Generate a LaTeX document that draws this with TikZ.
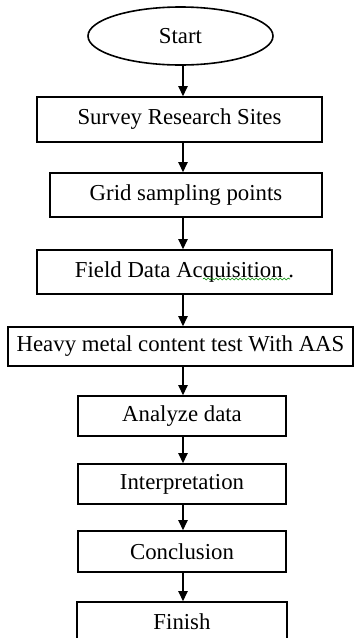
\documentclass[tikz,border=0pt]{standalone}
\usepackage{fontspec}
\setmainfont{Liberation Serif}
\usetikzlibrary{arrows.meta}
\usetikzlibrary{shapes,decorations.pathmorphing}

\begin{document}
\begin{tikzpicture}[x=0.5pt,y=-0.5pt,font=\fontsize{11.4}{13}\selectfont]
		\useasboundingbox (0,0) rectangle (354,638);
		\clip (0,0) rectangle (354,638);

		\begin{scope}[every node/.style={rectangle,draw,line width=0.8pt,inner sep=0pt}]
			\node[ellipse,minimum width=92.5pt,minimum height=29pt] (start) at (180.5,36) {Start};
			\node[minimum width=142.5pt,minimum height=22.5pt] (survey) at (179.5,119.5) {Survey Research Sites};
			\node[minimum width=136pt,minimum height=22pt] (grid) at (186,195) {Grid sampling points};
			\node[minimum width=147.5pt,minimum height=22pt] (field) at (184.5,272) {Field Data Acquisition .};
			\node[minimum width=172.5pt,minimum height=19.5pt] (heavy) at (180.5,346.5) {Heavy metal content test With AAS};
			\node[minimum width=104pt,minimum height=20pt] (analyze) at (182,416) {Analyze data};
			\node[minimum width=104pt,minimum height=20pt] (interp) at (182,484) {Interpretation};
			\node[minimum width=104pt,minimum height=20.5pt] (concl) at (182,551.5) {Conclusion};
			\node[minimum width=105pt,minimum height=20pt] (finish) at (182,622) {Finish};
		\end{scope}

		% spell-check squiggle under Acquisition
		\draw[green!55!black,line width=0.3pt,decorate,decoration={snake,segment length=2pt,amplitude=0.5pt}] (203,279) -- (290,279);

		\coordinate (axis) at (183,0);
		\begin{scope}[>={Triangle[length=5pt,width=4.6pt]},line width=0.7pt]
			\path[->] (start.south -| axis) edge (survey.north -| axis);
			\path[->] (survey.south -| axis) edge (grid.north -| axis);
			\path[->] (grid.south -| axis) edge (field.north -| axis);
			\path[->] (field.south -| axis) edge (heavy.north -| axis);
			\path[->] (heavy.south -| axis) edge (analyze.north -| axis);
			\path[->] (analyze.south -| axis) edge (interp.north -| axis);
			\path[->] (interp.south -| axis) edge (concl.north -| axis);
			\path[->] (concl.south -| axis) edge (finish.north -| axis);
		\end{scope}
	\end{tikzpicture}
\end{document}
